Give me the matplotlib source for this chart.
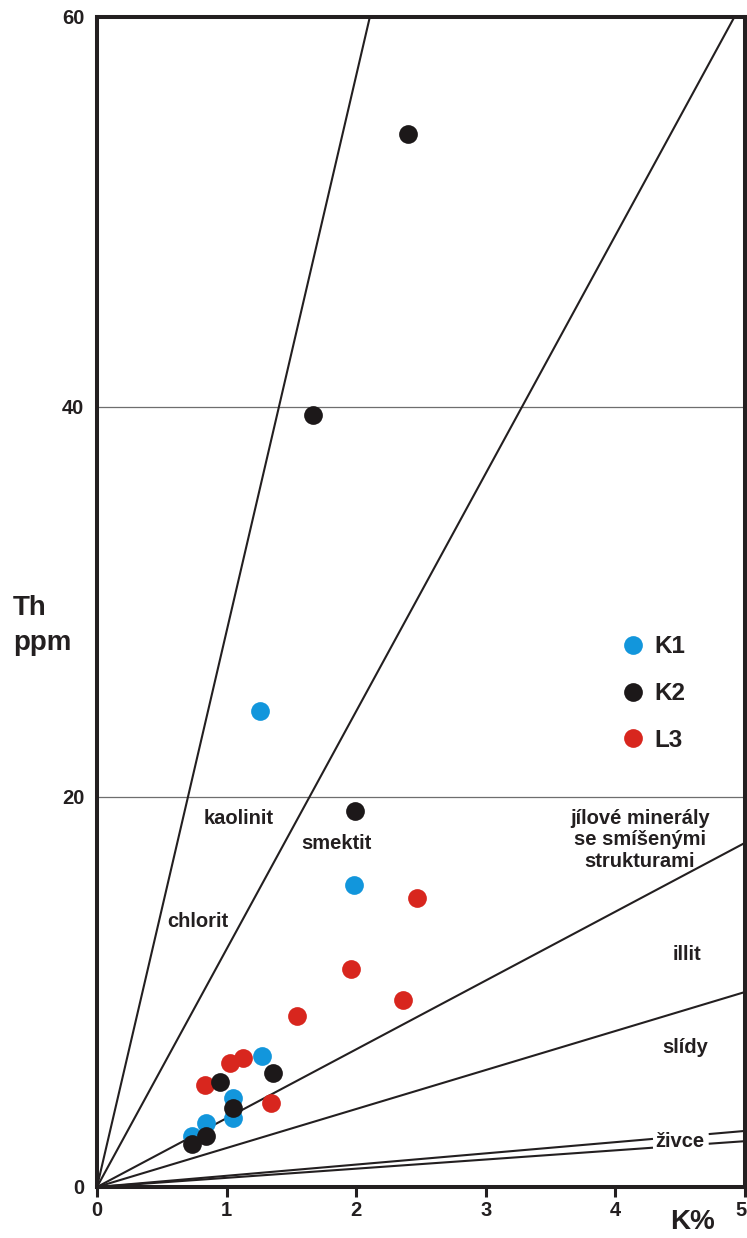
import matplotlib
matplotlib.use("Agg")
import matplotlib.pyplot as plt
from matplotlib.lines import Line2D
from matplotlib.transforms import ScaledTranslation
import numpy as np

plt.rcParams['font.family'] = ['Liberation Sans', 'DejaVu Sans']
plt.rcParams['font.weight'] = 'bold'

# --- data: K (%) and Th (ppm) for each sample set ---
k1_k = [1.26, 1.98, 1.27, 1.05, 1.05, 0.84, 0.73]
k1_th = [24.4, 15.5, 6.7, 4.55, 3.55, 3.3, 2.6]

k2_k = [2.40, 1.67, 1.99, 1.36, 0.95, 1.05, 0.84, 0.735]
k2_th = [54.0, 39.6, 19.3, 5.85, 5.4, 4.05, 2.6, 2.2]

l3_k = [2.47, 1.96, 2.36, 1.54, 1.13, 1.03, 0.83, 1.34]
l3_th = [14.8, 11.2, 9.6, 8.75, 6.6, 6.35, 5.25, 4.3]

# Th/K ratio boundaries between mineral fields
boundary_ratios = [28.5, 12.2, 3.53, 2.0]
feldspar_ratios = [0.575, 0.47]

x_ticks = [0, 1, 2, 3, 4, 5]
y_ticks = [0, 20, 40, 60]

col_k1 = '#1296dc'
col_k2 = '#1c1819'
col_l3 = '#d8261e'
ink = '#231f20'

fig = plt.figure(figsize=(7.47, 12.38), dpi=100)
ax = fig.add_axes([97 / 747, 51 / 1238, 648 / 747, 1170 / 1238])
ax.set_xlim(0, 5)
ax.set_ylim(0, 60)

# horizontal reference lines
for yv in (20, 40):
    ax.axhline(yv, color='#6e6e6e', lw=0.9, zorder=1)

# field boundaries through the origin
xs = np.array([0.0, 5.0])
for r in boundary_ratios:
    ax.plot(xs, r * xs, color=ink, lw=1.5, zorder=2, solid_capstyle='butt')

# feldspar lines, interrupted for their label
for r in feldspar_ratios:
    for seg in ((0.0, 4.29), (4.72, 5.0)):
        sx = np.array(seg)
        ax.plot(sx, r * sx, color=ink, lw=1.5, zorder=2, solid_capstyle='butt')

ms = 13.5
ax.plot(l3_k, l3_th, 'o', ms=ms, color=col_l3, mec='none', zorder=3)
ax.plot(k1_k, k1_th, 'o', ms=ms, color=col_k1, mec='none', zorder=4)
ax.plot(k2_k, k2_th, 'o', ms=ms, color=col_k2, mec='none', zorder=5)

# field labels
lab = dict(color=ink, fontsize=14.5, fontweight='bold', ha='center', va='center', zorder=6)
ax.text(1.096, 18.9, 'kaolinit', **lab)
ax.text(1.844, 17.6, 'smektit', **lab)
ax.text(0.779, 13.6, 'chlorit', **lab)
ax.text(4.19, 17.8, 'jílové minerály\nse smíšenými\nstrukturami', linespacing=1.15, **lab)
ax.text(4.55, 11.9, 'illit', **lab)
ax.text(4.54, 7.15, 'slídy', **lab)
ax.text(4.5, 2.35, 'živce', **lab)

# axes styling
for s in ax.spines.values():
    s.set_linewidth(2.9)
    s.set_color(ink)
ax.set_xticks(x_ticks)
ax.set_xticklabels([str(v) for v in x_ticks])
ax.set_yticks(y_ticks)
ax.set_yticklabels([str(v) for v in y_ticks])
ax.tick_params(axis='x', direction='out', length=7, width=2.2, color=ink,
               labelsize=14.5, pad=3, labelcolor=ink)
ax.tick_params(axis='y', length=0, labelsize=14.5, pad=9, labelcolor=ink)
for t in ax.get_xticklabels() + ax.get_yticklabels():
    t.set_fontweight('bold')
# keep the last K label inside the canvas
last = ax.get_xticklabels()[-1]
last.set_transform(last.get_transform() + ScaledTranslation(-4 / 100, 0, fig.dpi_scale_trans))

fig.text(13 / 747, 1 - 608 / 1238, 'Th', fontsize=20, fontweight='bold',
         color=ink, ha='left', va='center')
fig.text(13 / 747, 1 - 643 / 1238, 'ppm', fontsize=20, fontweight='bold',
         color=ink, ha='left', va='center')
fig.text(692 / 747, 1 - 1222 / 1238, 'K%', fontsize=20, fontweight='bold',
         color=ink, ha='center', va='center')

handles = [
    Line2D([], [], ls='none', marker='o', ms=ms, color=col_k1, mec='none'),
    Line2D([], [], ls='none', marker='o', ms=ms, color=col_k2, mec='none'),
    Line2D([], [], ls='none', marker='o', ms=ms, color=col_l3, mec='none'),
]
leg = ax.legend(handles, ['K1', 'K2', 'L3'], loc='upper left',
                bbox_to_anchor=(0.8097, 0.4715), frameon=False,
                prop={'size': 17.5, 'weight': 'bold'}, handlelength=0.9,
                handletextpad=0.45, labelspacing=0.98, borderpad=0,
                borderaxespad=0)
for t in leg.get_texts():
    t.set_color(ink)

fig.savefig('out.png', dpi=100, facecolor='white')
